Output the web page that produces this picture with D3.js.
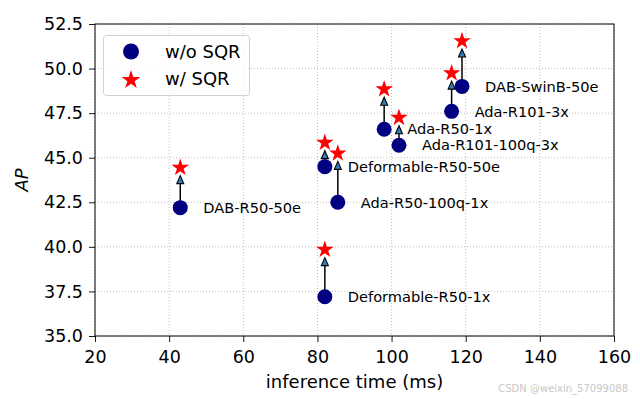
<!DOCTYPE html>
<html><head><meta charset="utf-8">
<script src="https://cdn.jsdelivr.net/npm/d3@7"></script>
<style>body{margin:0;background:#fff}svg{display:block;font-family:"DejaVu Sans",sans-serif}</style>
</head><body><svg id="c" width="640" height="399"></svg>
<script>
const names = ["DAB-R50-50e","Deformable-R50-1x","Deformable-R50-50e","Ada-R50-100q-1x","Ada-R50-1x","Ada-R101-100q-3x","Ada-R101-3x","DAB-SwinB-50e"];
const timeMs = [43, 82, 82, 85.5, 98, 102, 116.2, 119];
const apWithout = [42.2, 37.2, 44.5, 42.5, 46.6, 45.7, 47.6, 49.0];
const apWith = [44.5, 39.9, 45.9, 45.3, 48.9, 47.3, 49.8, 51.6];
const xTicks = [20, 40, 60, 80, 100, 120, 140, 160];
const yTicks = [35.0, 37.5, 40.0, 42.5, 45.0, 47.5, 50.0, 52.5];
const legendLabels = ["w/o SQR", "w/ SQR"];

const svg = d3.select("#c");
const L = 95, R = 614, T = 24, B = 336;
const x = d3.scaleLinear().domain([20,160]).range([L,R]);
const y = d3.scaleLinear().domain([35,52.5]).range([B,T]);

// grid
const g = svg.append("g");
g.selectAll(".gx").data(xTicks).join("line").attr("x1",d=>x(d)).attr("x2",d=>x(d)).attr("y1",T).attr("y2",B)
  .attr("stroke","#b0b0b0").attr("stroke-width",0.8).attr("stroke-dasharray","1,2");
g.selectAll(".gy").data(yTicks).join("line").attr("y1",d=>y(d)).attr("y2",d=>y(d)).attr("x1",L).attr("x2",R)
  .attr("stroke","#b0b0b0").attr("stroke-width",0.8).attr("stroke-dasharray","1,2");

// axes
const fmt = d3.format(".1f");
const xa = svg.append("g").attr("transform",`translate(0,${B})`)
  .call(d3.axisBottom(x).tickValues(xTicks).tickSize(6).tickPadding(8.6).tickFormat(d3.format("d")));
const ya = svg.append("g").attr("transform",`translate(${L},0)`)
  .call(d3.axisLeft(y).tickValues(yTicks).tickSize(6).tickPadding(6).tickFormat(fmt));
[xa,ya].forEach(a=>{a.select(".domain").remove();a.selectAll("text").attr("font-size",17.5).attr("fill","#000").attr("font-family","DejaVu Sans");
  a.selectAll("line").attr("stroke","#000").attr("stroke-width",0.9);});
svg.append("rect").attr("x",L).attr("y",T).attr("width",R-L).attr("height",B-T).attr("fill","none").attr("stroke","#000").attr("stroke-width",1);

svg.append("text").attr("x",(L+R)/2).attr("y",388).attr("text-anchor","middle").attr("font-size",18).text("inference time (ms)");
svg.append("text").attr("transform",`translate(28,${(T+B)/2}) rotate(-90)`).attr("text-anchor","middle")
  .attr("font-size",18).attr("font-style","italic").text("AP");

const idx = d3.range(names.length);
// arrows
const ag = svg.append("g");
idx.forEach(i=>{
  const cx = x(timeMs[i]), y0 = y(apWithout[i]), ty = y(apWith[i]) + 9;
  ag.append("line").attr("x1",cx).attr("x2",cx).attr("y1",y0).attr("y2",ty+6).attr("stroke","#000").attr("stroke-width",1.5);
  ag.append("path").attr("d",`M${cx},${ty} L${cx-3.5},${ty+8} L${cx+3.5},${ty+8} Z`)
    .attr("fill","#2f7fb8").attr("stroke","#000").attr("stroke-width",1.1).attr("stroke-linejoin","miter");
});
const star = d3.symbol().type(d3.symbolStar).size(95);
svg.append("g").selectAll("circle").data(idx).join("circle")
  .attr("cx",i=>x(timeMs[i])).attr("cy",i=>y(apWithout[i])).attr("r",7.5).attr("fill","#000080");
svg.append("g").selectAll("path").data(idx).join("path").attr("d",star)
  .attr("transform",i=>`translate(${x(timeMs[i])},${y(apWith[i])+1})`).attr("fill","red");
svg.append("g").selectAll("text").data(idx).join("text")
  .attr("x",i=>x(timeMs[i])+23).attr("y",i=>y(apWithout[i])).attr("dy","0.36em")
  .attr("font-size",14.6).text(i=>names[i]);

// legend
const lg = svg.append("g");
lg.append("rect").attr("x",103.5).attr("y",35.5).attr("width",146).attr("height",60).attr("rx",3)
  .attr("fill","#fff").attr("fill-opacity",0.8).attr("stroke","#d0d0d0").attr("stroke-width",1);
lg.append("circle").attr("cx",131).attr("cy",51.5).attr("r",8).attr("fill","#000080");
lg.append("path").attr("d",d3.symbol().type(d3.symbolStar).size(110)).attr("transform","translate(131,80)").attr("fill","red");
lg.selectAll("text").data(legendLabels).join("text").attr("x",165).attr("y",(d,i)=>51.5+i*27.5).attr("dy","0.36em")
  .attr("font-size",18).text(d=>d);

svg.append("text").attr("x",628).attr("y",392).attr("text-anchor","end").attr("font-size",10).attr("fill","#c8c8c8").text("CSDN @weixin_57099088");
</script></body></html>
